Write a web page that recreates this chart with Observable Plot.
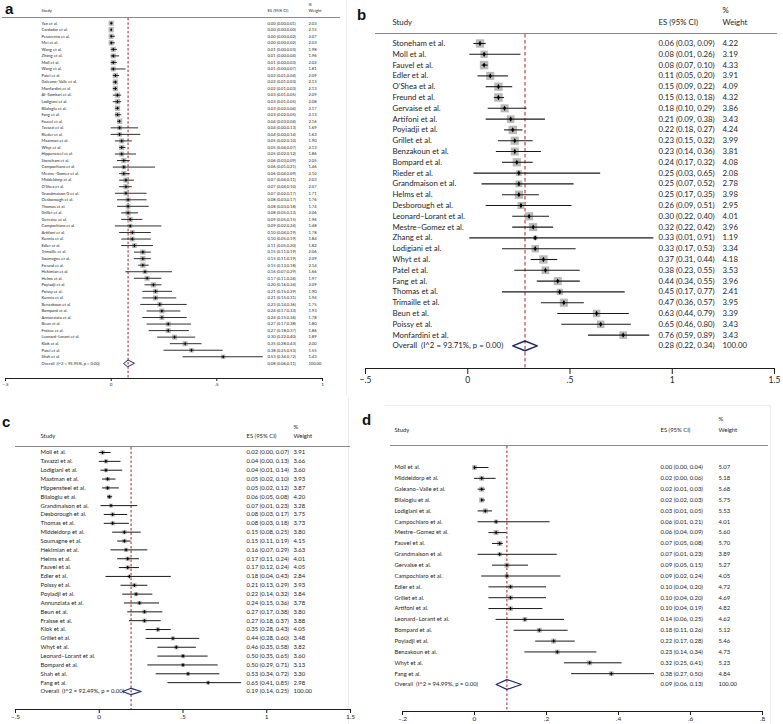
<!DOCTYPE html>
<html><head><meta charset="utf-8">
<script src="https://cdn.jsdelivr.net/npm/d3@7"></script>
<script src="https://cdn.jsdelivr.net/npm/@observablehq/plot@0.6"></script>
<style>
body{margin:0;background:#fff;}
#root{position:relative;width:783px;height:724px;overflow:hidden;background:#fff;}
.panel{position:absolute;}
.lab{position:absolute;font:bold 15px/15px "Liberation Sans",Arial,sans-serif;color:#111;}
.hr{position:absolute;background:#8a8a8a;}
.bd{position:absolute;background:#ececec;}
</style></head><body><div id="root"></div>
<script>
// ---------- Panel a ----------
const namesA = ["Yan et al.","Cardador et al.","Pesavento et al.","Mei et al.","Wang et al.","Zhang et al.","Moll et al.","Wang et al.","Patel et al.","Galeano–Valle et al.","Monfardini et al.","Al–Samkari et al.","Lodigiani et al.","Bilaloglu et al.","Fang et al.","Fauvel et al.","Tavazzi et al.","Rieder et al.","Maatman et al.","Whyt et al.","Hippensteel et al.","Stoneham et al.","Campochiaro et al.","Mestre–Gomez et al.","Middeldorp et al.","O'Shea et al.","Grandmaison G et al.","Desborough et al.","Thomas et al.","Grillet et al.","Gervaise et al.","Campochiaro et al.","Artifoni et al.","Kunnia et al.","Edler et al.","Trimaille et al.","Soumagne et al.","Freund et al.","Hekimian et al.","Helms et al.","Poyiadji et al.","Poissy et al.","Kunnia et al.","Benzakoun et al.","Bompard et al.","Annunziata et al.","Beun et al.","Fraisse et al.","Leonard–Lorant et al.","Klok et al.","Patel et al.","Shah et al."];
const esA = [0.00,0.00,0.00,0.00,0.01,0.01,0.01,0.01,0.02,0.02,0.02,0.03,0.03,0.03,0.03,0.04,0.04,0.04,0.05,0.05,0.05,0.06,0.06,0.06,0.07,0.07,0.07,0.08,0.08,0.08,0.09,0.09,0.10,0.10,0.11,0.15,0.15,0.15,0.16,0.17,0.20,0.21,0.21,0.23,0.24,0.24,0.27,0.27,0.30,0.35,0.38,0.53];
const loA = [0.00,0.00,0.00,0.00,0.00,0.00,0.00,0.00,0.01,0.01,0.01,0.01,0.01,0.02,0.02,0.03,0.00,0.00,0.02,0.04,0.02,0.03,0.01,0.04,0.04,0.04,0.02,0.03,0.03,0.05,0.05,0.02,0.04,0.05,0.05,0.11,0.11,0.13,0.07,0.11,0.16,0.15,0.15,0.14,0.17,0.15,0.17,0.18,0.22,0.28,0.25,0.34];
const hiA = [0.01,0.00,0.02,0.02,0.03,0.04,0.03,0.07,0.04,0.03,0.03,0.05,0.05,0.04,0.05,0.04,0.13,0.14,0.10,0.07,0.12,0.09,0.21,0.09,0.11,0.10,0.17,0.17,0.18,0.13,0.15,0.24,0.19,0.19,0.20,0.19,0.19,0.18,0.29,0.24,0.24,0.29,0.31,0.36,0.33,0.36,0.38,0.37,0.40,0.43,0.53,0.72];
const weightA = [2.03,2.15,2.07,2.03,1.98,1.96,2.02,1.81,2.09,2.13,2.13,2.09,2.08,2.17,2.13,2.16,1.69,1.63,1.90,2.13,1.86,2.05,1.46,2.10,2.03,2.07,1.71,1.76,1.74,2.06,1.96,1.48,1.78,1.84,1.82,2.06,2.09,2.14,1.66,1.97,2.09,1.90,1.94,1.75,1.93,1.78,1.80,1.86,1.89,2.00,1.55,1.43];
const overallA = {name: "Overall  (I^2 = 95.95%, p = 0.00)", es: 0.08, lo: 0.06, hi: 0.11, w: 100};
const ticksA = [-0.5, 0, 0.5, 1];

// ---------- Panel b ----------
const namesB = ["Stoneham et al.","Moll et al.","Fauvel et al.","Edler et al.","O’Shea et al.","Freund et al.","Gervaise et al.","Artifoni et al.","Poyiadji et al.","Grillet et al.","Benzakoun et al.","Bompard et al.","Rieder et al.","Grandmaison et al.","Helms et al.","Desborough et al.","Leonard–Lorant et al.","Mestre–Gomez et al.","Zhang et al.","Lodigiani et al.","Whyt et al.","Patel et al.","Fang et al.","Thomas et al.","Trimaille et al.","Beun et al.","Poissy et al.","Monfardini et al."];
const esB = [0.06,0.08,0.08,0.11,0.15,0.15,0.18,0.21,0.22,0.23,0.23,0.24,0.25,0.25,0.25,0.26,0.30,0.32,0.33,0.33,0.37,0.38,0.44,0.45,0.47,0.63,0.65,0.76];
const loB = [0.03,0.01,0.07,0.05,0.09,0.13,0.10,0.09,0.18,0.15,0.14,0.17,0.03,0.07,0.17,0.09,0.22,0.22,0.01,0.17,0.31,0.23,0.34,0.17,0.36,0.44,0.46,0.59];
const hiB = [0.09,0.26,0.10,0.20,0.22,0.18,0.29,0.38,0.27,0.32,0.36,0.32,0.65,0.52,0.35,0.51,0.40,0.42,0.91,0.53,0.44,0.55,0.55,0.77,0.57,0.79,0.80,0.89];
const weightB = [4.22,3.19,4.33,3.91,4.09,4.32,3.86,3.43,4.24,3.99,3.81,4.08,2.08,2.78,3.98,2.95,4.01,3.96,1.19,3.34,4.18,3.53,3.96,2.41,3.95,3.39,3.43,3.43];
const overallB = {name: "Overall  (I^2 = 93.71%, p = 0.00)", es: 0.28, lo: 0.22, hi: 0.34, w: 100};
const ticksB = [-0.5, 0, 0.5, 1, 1.5];

// ---------- Panel c ----------
const namesC = ["Moll et al.","Tavazzi et al.","Lodigiani et al.","Maatman et al.","Hippensteel et al.","Bilaloglu et al.","Grandmaison et al.","Desborough et al.","Thomas et al.","Middeldorp et al.","Soumagne et al.","Hekimian et al.","Helms et al.","Fauvel et al.","Edler et al.","Poissy et al.","Poyiadji et al.","Annunziata et al.","Beun et al.","Fraisse et al.","Klok et al.","Grillet et al.","Whyt et al.","Leonard–Lorant et al.","Bompard et al.","Shah et al.","Fang et al."];
const esC = [0.02,0.04,0.04,0.05,0.05,0.06,0.07,0.08,0.08,0.15,0.15,0.16,0.17,0.17,0.18,0.21,0.22,0.24,0.27,0.27,0.35,0.44,0.46,0.50,0.50,0.53,0.65];
const loC = [0.00,0.00,0.01,0.02,0.02,0.05,0.01,0.03,0.03,0.08,0.11,0.07,0.11,0.12,0.04,0.13,0.14,0.15,0.17,0.18,0.28,0.28,0.35,0.35,0.29,0.34,0.41];
const hiC = [0.07,0.13,0.14,0.10,0.12,0.08,0.23,0.17,0.18,0.25,0.19,0.29,0.24,0.24,0.43,0.29,0.32,0.36,0.38,0.37,0.43,0.60,0.58,0.65,0.71,0.72,0.85];
const weightC = [3.91,3.66,3.60,3.93,3.87,4.20,3.28,3.75,3.73,3.80,4.15,3.63,4.01,4.05,2.84,3.93,3.84,3.78,3.80,3.88,4.05,3.48,3.82,3.60,3.13,3.30,2.98];
const overallC = {name: "Overall  (I^2 = 92.49%, p = 0.00)", es: 0.19, lo: 0.14, hi: 0.25, w: 100};
const ticksC = [-0.5, 0, 0.5, 1, 1.5];

// ---------- Panel d ----------
const namesD = ["Moll et al.","Middeldorp et al.","Galeano–Valle et al.","Bilaloglu et al.","Lodigiani et al.","Campochiaro et al.","Mestre–Gomez et al.","Fauvel et al.","Grandmaison et al.","Gervaise et al.","Campochiaro et al.","Edler et al.","Grillet et al.","Artifoni et al.","Leonard–Lorant et al.","Bompard et al.","Poyiadji et al.","Benzakoun et al.","Whyt et al.","Fang et al."];
const esD = [0.00,0.02,0.02,0.02,0.03,0.06,0.06,0.07,0.07,0.09,0.09,0.10,0.10,0.10,0.14,0.18,0.22,0.23,0.32,0.38];
const loD = [0.00,0.00,0.01,0.02,0.01,0.01,0.04,0.05,0.01,0.05,0.02,0.04,0.04,0.04,0.06,0.11,0.17,0.14,0.25,0.27];
const hiD = [0.04,0.06,0.03,0.03,0.05,0.21,0.09,0.08,0.23,0.15,0.24,0.20,0.20,0.19,0.25,0.26,0.28,0.34,0.41,0.50];
const weightD = [5.07,5.18,5.68,5.75,5.53,4.01,5.60,5.70,3.89,5.27,4.05,4.72,4.69,4.82,4.62,5.12,5.46,4.73,5.23,4.84];
const overallD = {name: "Overall  (I^2 = 94.99%, p = 0.00)", es: 0.09, lo: 0.06, hi: 0.13, w: 100};
const ticksD = [-0.2, 0, 0.2, 0.4, 0.6, 0.8];

const headers = {study: "Study", es: "ES (95% CI)", pct: "%", weight: "Weight"};

// ---------- helpers ----------
const root = document.getElementById("root");
const stataTick = d => d === 0 ? "0" : (d < 0 ? "−" : "") + String(+Math.abs(d).toFixed(2)).replace(/^0\./, ".");
const f2 = v => v.toFixed(2);

function addDiv(cls, css, text) {
  const el = document.createElement("div");
  el.className = cls;
  Object.assign(el.style, css);
  if (text) el.textContent = text;
  root.appendChild(el);
  return el;
}

function forest(c) {
  const rows = c.names.map((name, i) => ({i, name, es: c.es[i], lo: c.lo[i], hi: c.hi[i], w: c.w[i]}));
  const n = rows.length;
  const ov = {...c.overall, i: n};
  const all = rows.concat([ov]);
  const esText = r => c.compact ? `${f2(r.es)} (${f2(r.lo)},${f2(r.hi)})` : `${f2(r.es)} (${f2(r.lo)}, ${f2(r.hi)})`;
  const diamond = [
    {x: ov.lo, y: n}, {x: ov.es, y: n - c.dh}, {x: ov.hi, y: n}, {x: ov.es, y: n + c.dh}
  ];
  const txt = {frameAnchor: "left", textAnchor: "start", fontSize: c.font, fill: "#1e1e1e", lineAnchor: "middle"};
  const head = {frameAnchor: "top-left", textAnchor: "start", fontSize: c.font, fill: "#1e1e1e", lineAnchor: "middle"};
  const chart = Plot.plot({
    width: c.width,
    height: c.height,
    marginLeft: c.xL - c.left,
    marginRight: c.left + c.width - c.xR,
    marginTop: c.frameTop - c.top,
    marginBottom: c.top + c.height - c.frameBottom,
    style: {fontFamily: "Lato, 'Noto Sans', sans-serif", fontSize: c.tickFont + "px", color: "#1e1e1e", background: "transparent", overflow: "visible"},
    x: {domain: [c.ticks[0], c.ticks[c.ticks.length - 1]], ticks: c.ticks, tickFormat: stataTick, tickSize: c.tickSize, tickPadding: c.tickPad, line: true, label: null},
    y: {domain: [0, n], range: [c.row0 - c.top, c.rowN - c.top], axis: null},
    r: {type: "sqrt", domain: [0, d3.max(c.w)], range: [0, c.boxR]},
    marks: [
      Plot.ruleX([ov.es], {stroke: "#a3242c", strokeWidth: 1, strokeDasharray: c.dash}),
      Plot.dot(rows, {x: "es", y: "i", r: "w", symbol: "square", fill: "#b9b9b9", stroke: "none"}),
      Plot.ruleY(rows, {y: "i", x1: "lo", x2: "hi", stroke: "#1a1a1a", strokeWidth: c.ciW}),
      Plot.dot(rows, {x: "es", y: "i", r: c.ptR, symbol: "diamond", fill: "#000", stroke: "none"}),
      Plot.text(all, {...txt, y: "i", text: "name", dx: c.colName - c.xL}),
      Plot.text(all, {...txt, y: "i", text: esText, dx: c.colEs - c.xL}),
      Plot.text(all, {...txt, y: "i", text: r => f2(r.w), dx: c.colW - c.xL}),
      Plot.line(diamond, {x: "x", y: "y", curve: "linear-closed", stroke: "#1c2a6c", strokeWidth: c.dW, fill: "none"}),
      Plot.text([headers.study], {...head, text: d => d, dx: c.colName - c.xL, dy: c.headY - c.frameTop}),
      Plot.text([headers.es], {...head, text: d => d, dx: c.colEs - c.xL, dy: c.headY - c.frameTop}),
      Plot.text([headers.pct], {...head, text: d => d, dx: c.colW - c.xL, dy: c.pctY - c.frameTop}),
      Plot.text([headers.weight], {...head, text: d => d, dx: c.colW - c.xL, dy: c.headY - c.frameTop})
    ]
  });
  const wrap = addDiv("panel", {left: c.left + "px", top: c.top + "px", width: c.width + "px", height: c.height + "px"});
  wrap.appendChild(chart);
  addDiv("hr", {left: c.rule[0] + "px", top: c.ruleY + "px", width: (c.rule[1] - c.rule[0]) + "px", height: c.ruleH + "px"});
  addDiv("lab", {left: c.lab[0] + "px", top: c.lab[1] + "px"}, c.label);
}

// faint panel borders
addDiv("bd", {left: "346px", top: "0px", width: "1px", height: "395px"});
addDiv("bd", {left: "348px", top: "398px", width: "1px", height: "326px"});
addDiv("bd", {left: "385px", top: "405px", width: "385px", height: "1px"});
addDiv("bd", {left: "770px", top: "405px", width: "1px", height: "319px"});

forest({label: "a", lab: [5, 1], names: namesA, es: esA, lo: loA, hi: hiA, w: weightA, overall: overallA, ticks: ticksA, compact: true,
  left: 0, top: 0, width: 346, height: 395, xL: 5, xR: 322, frameTop: 18, frameBottom: 378, row0: 22.7, rowN: 362.8,
  colName: 41, colEs: 267, colW: 308, headY: 10, pctY: 3.8, font: 4.1, tickFont: 4.5, tickSize: 3, tickPad: 1.5,
  boxR: 3.0, ptR: 1.1, ciW: 0.9, dh: 0.5, dW: 1, dash: "2.5,1.8", rule: [2, 340], ruleY: 16.5, ruleH: 1});

forest({label: "b", lab: [357, 7.3], names: namesB, es: esB, lo: loB, hi: hiB, w: weightB, overall: overallB, ticks: ticksB, compact: false,
  left: 360, top: 0, width: 423, height: 395, xL: 365, xR: 774, frameTop: 34, frameBottom: 368, row0: 43, rowN: 345.4,
  colName: 392, colEs: 658, colW: 722, headY: 22, pctY: 10, font: 7.8, tickFont: 8.5, tickSize: 6, tickPad: 2,
  boxR: 4.8, ptR: 1.6, ciW: 1.1, dh: 0.45, dW: 1.5, dash: "3.5,2.5", rule: [375, 777], ruleY: 32.5, ruleH: 1.6});

forest({label: "c", lab: [2, 414.3], names: namesC, es: esC, lo: loC, hi: hiC, w: weightC, overall: overallC, ticks: ticksC, compact: false,
  left: 0, top: 395, width: 360, height: 329, xL: 15, xR: 350, frameTop: 447, frameBottom: 709, row0: 452, rowN: 691,
  colName: 40, colEs: 246, colW: 293, headY: 436, pctY: 427, font: 5.9, tickFont: 6.5, tickSize: 4, tickPad: 1,
  boxR: 2.5, ptR: 1.2, ciW: 1, dh: 0.36, dW: 1.2, dash: "2.5,2", rule: [15, 350], ruleY: 445.5, ruleH: 1.2});

forest({label: "d", lab: [362, 412.3], names: namesD, es: esD, lo: loD, hi: hiD, w: weightD, overall: overallD, ticks: ticksD, compact: false,
  left: 385, top: 395, width: 398, height: 329, xL: 402, xR: 762, frameTop: 446, frameBottom: 711, row0: 467, rowN: 684,
  colName: 394, colEs: 660, colW: 718, headY: 430, pctY: 419, font: 5.9, tickFont: 6.5, tickSize: 4, tickPad: 1,
  boxR: 2.9, ptR: 1.2, ciW: 1, dh: 0.45, dW: 1.2, dash: "2.5,2", rule: [390, 768], ruleY: 444.5, ruleH: 1.2});
</script>
</body></html>
